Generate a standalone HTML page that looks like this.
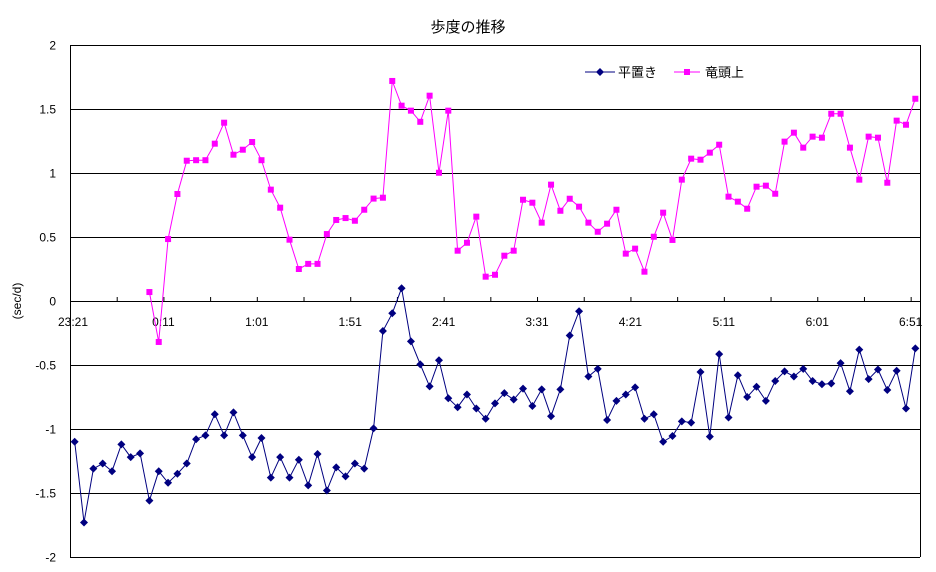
<!DOCTYPE html>
<html><head><meta charset="utf-8"><style>
html,body{margin:0;padding:0;background:#fff;}
svg{display:block;font-family:"Liberation Sans","Noto Sans CJK JP",sans-serif;}
</style></head><body>
<svg id="c" width="936" height="572" viewBox="0 0 936 572" xmlns="http://www.w3.org/2000/svg">
<rect width="936" height="572" fill="#fff"/>
<text x="468" y="32" font-size="15" text-anchor="middle">歩度の推移</text>
<g id="grid" stroke="#000" stroke-width="1"></g>
<g id="ylab" font-size="12" text-anchor="end"></g>
<g id="xlab" font-size="12" text-anchor="middle"></g>
<text transform="translate(21,301) rotate(-90)" font-size="12" text-anchor="middle">(sec/d)</text>
<g id="series"></g>
<g font-size="13">
<line x1="585" y1="72" x2="615" y2="72" stroke="#000080"/>
<polygon points="600,68 604,72 600,76 596,72" fill="#000080"/>
<text x="618" y="77">平置き</text>
<line x1="674" y1="72" x2="700" y2="72" stroke="#ff00ff"/>
<rect x="684" y="69" width="6" height="6" fill="#ff00ff"/>
<text x="705" y="77">竜頭上</text>
</g>
</svg>
<script>
var NS="http://www.w3.org/2000/svg";
function el(p,t,a,txt){var e=document.createElementNS(NS,t);for(var k in a)e.setAttribute(k,a[k]);if(txt!==undefined)e.textContent=txt;document.getElementById(p).appendChild(e);return e;}
var L=70,R=920,cw=(R-L)/91;
function Y(v){return 301-v*128;}
function X(i){return L+cw*(i+0.5);}
for(var k=0;k<9;k++){var v=2-k*0.5,y=Y(v)+0.5;el("grid","line",{x1:L,y1:y,x2:R,y2:y});
 el("ylab","text",{x:56,y:y+4},String(v).replace("-","-"));}
el("grid","line",{x1:L+0.5,y1:45,x2:L+0.5,y2:557});
el("grid","line",{x1:R+0.5,y1:45,x2:R+0.5,y2:557});
for(var t=0;t<=18;t++){var x=L+cw*5*t+0.5;el("grid","line",{x1:x,y1:297,x2:x,y2:301});}
var lab=["23:21","0:11","1:01","1:51","2:41","3:31","4:21","5:11","6:01","6:51"];
for(var j=0;j<lab.length;j++){var x=L+cw*10*j; if(j==0)x=73; el("xlab","text",{x:x,y:326},lab[j]);}
var blue=[-1.10,-1.73,-1.31,-1.27,-1.33,-1.12,-1.22,-1.19,-1.56,-1.33,-1.42,-1.35,-1.27,-1.08,-1.05,-0.885,-1.05,-0.87,-1.05,-1.22,-1.07,-1.38,-1.22,-1.38,-1.24,-1.44,-1.195,-1.48,-1.30,
-1.37,-1.27,-1.31,
-0.995,-0.234,-0.096,0.10,-0.315,-0.495,-0.667,-0.463,-0.76,-0.83,-0.73,-0.84,-0.92,-0.80,-0.72,-0.77,-0.685,-0.82,-0.69,-0.90,-0.69,-0.27,-0.08,-0.59,-0.53,-0.93,-0.78,-0.73,
-0.675,-0.92,-0.885,-1.10,-1.055,-0.94,-0.95,-0.555,-1.06,-0.415,-0.91,-0.58,-0.75,-0.67,-0.78,-0.625,-0.55,-0.59,-0.53,-0.625,-0.65,-0.645,-0.485,-0.705,-0.38,-0.61,-0.535,-0.695,-0.545,-0.84,-0.37];
var pink=[0.07,-0.32,0.484,0.836,1.096,1.10,1.10,1.229,1.393,1.143,1.182,1.242,1.10,0.87,0.729,0.479,0.25,0.29,0.29,0.523,0.633,0.648,0.627,0.713,0.80,0.807,1.719,1.526,1.487,
1.40,1.604,1.002,1.487,0.393,0.455,0.659,0.19,0.205,0.354,0.393,0.791,0.768,0.612,0.909,0.705,0.799,0.737,0.612,0.541,0.604,0.713,0.37,0.409,0.229,0.502,0.69,
0.477,0.948,1.112,1.104,1.159,1.221,0.815,0.776,0.721,0.893,0.901,0.838,1.245,1.315,1.198,1.284,1.276,1.463,1.463,1.198,0.948,1.284,1.276,0.924,1.409,1.377,1.58];
function draw(d,off,col,mk){var p="";for(var i=0;i<d.length;i++){p+=(i?"L":"M")+X(i+off).toFixed(1)+" "+Y(d[i]).toFixed(1);}
 el("series","path",{d:p,fill:"none",stroke:col,"stroke-width":1});
 for(var i=0;i<d.length;i++){var x=X(i+off),y=Y(d[i]);
  if(mk=="d")el("series","polygon",{points:x+","+(y-4)+" "+(x+4)+","+y+" "+x+","+(y+4)+" "+(x-4)+","+y,fill:col});
  else el("series","rect",{x:x-3,y:y-3,width:6,height:6,fill:col});}}
draw(pink,8,"#ff00ff","s");
draw(blue,0,"#000080","d");
</script>
</body></html>
